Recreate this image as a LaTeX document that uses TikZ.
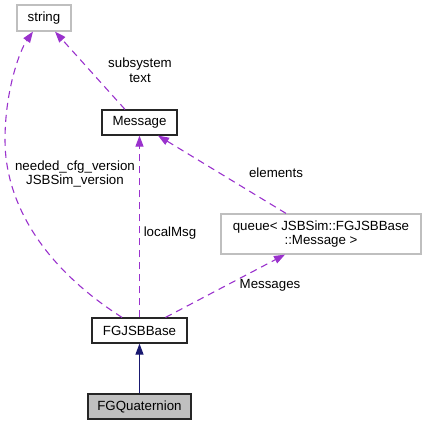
\documentclass[tikz,border=0pt]{standalone}
\usepackage{fontspec}
\setmainfont{Liberation Sans}
\usetikzlibrary{arrows.meta}
\definecolor{edgepurple}{HTML}{9A32CD}
\definecolor{navyedge}{HTML}{191970}
\definecolor{lgray}{HTML}{BFBFBF}
\definecolor{bgray}{HTML}{C0C0C0}
\tikzset{
  cls/.style={draw=black!85, line width=1.2pt, fill=white, inner sep=0pt, minimum height=25pt, font=\fontsize{13.3}{14.5}\selectfont},
  ext/.style={draw=lgray, line width=1.2pt, fill=white, inner sep=0pt, minimum height=26pt, font=\fontsize{13.3}{14.5}\selectfont, align=center},
  cur/.style={cls, fill=bgray},
  usage/.style={draw=edgepurple, line width=1.1pt, dash pattern=on 7pt off 5pt, -{Triangle[length=11pt,width=8pt]}},
  inherit/.style={draw=navyedge, line width=1.1pt, -{Triangle[length=11pt,width=8pt]}},
  lbl/.style={font=\fontsize{13.3}{14.5}\selectfont, align=center, inner sep=0pt}
}
\begin{document}
\begin{tikzpicture}[x=1pt,y=-1pt]
\useasboundingbox (0,0) rectangle (426,425);
\node[ext, minimum width=54pt] (string) at (44,18) {string};
\node[cls, minimum width=75pt] (msg) at (139.5,122.5) {Message};
\node[ext, minimum width=200pt, minimum height=40pt] (queue) at (321,234) {queue< JSBSim::FGJSBBase\\::Message >};
\node[cls, minimum width=95pt] (base) at (139.5,330.5) {FGJSBBase};
\node[cur, minimum width=103pt] (quat) at (139.5,406.5) {FGQuaternion};

\draw[inherit] (quat.north) -- (base.south);
\draw[usage] (base.north) -- (msg.south);
\draw[usage] ([xshift=-17.5pt]base.north) .. controls (40,265) and (5,200) .. (5,140) .. controls (5,90) and (20,50) .. ([xshift=-11pt]string.south);
\draw[usage] ([xshift=-14.5pt]msg.north) -- ([xshift=11pt]string.south);
\draw[usage] ([xshift=-35pt]queue.north) -- ([xshift=18.5pt]msg.south);
\draw[usage] ([xshift=26pt]base.north) -- ([xshift=-36pt]queue.south);

\node[lbl] (l1) at (140,70) {subsystem\\text};
\node[lbl] (l2) at (75,174) {needed\_cfg\_version\\JSBSim\_version};
\node[lbl] (l3) at (170,233) {localMsg};
\node[lbl] (l4) at (276,173) {elements};
\node[lbl] (l5) at (270,285) {Messages};
\end{tikzpicture}
\end{document}
